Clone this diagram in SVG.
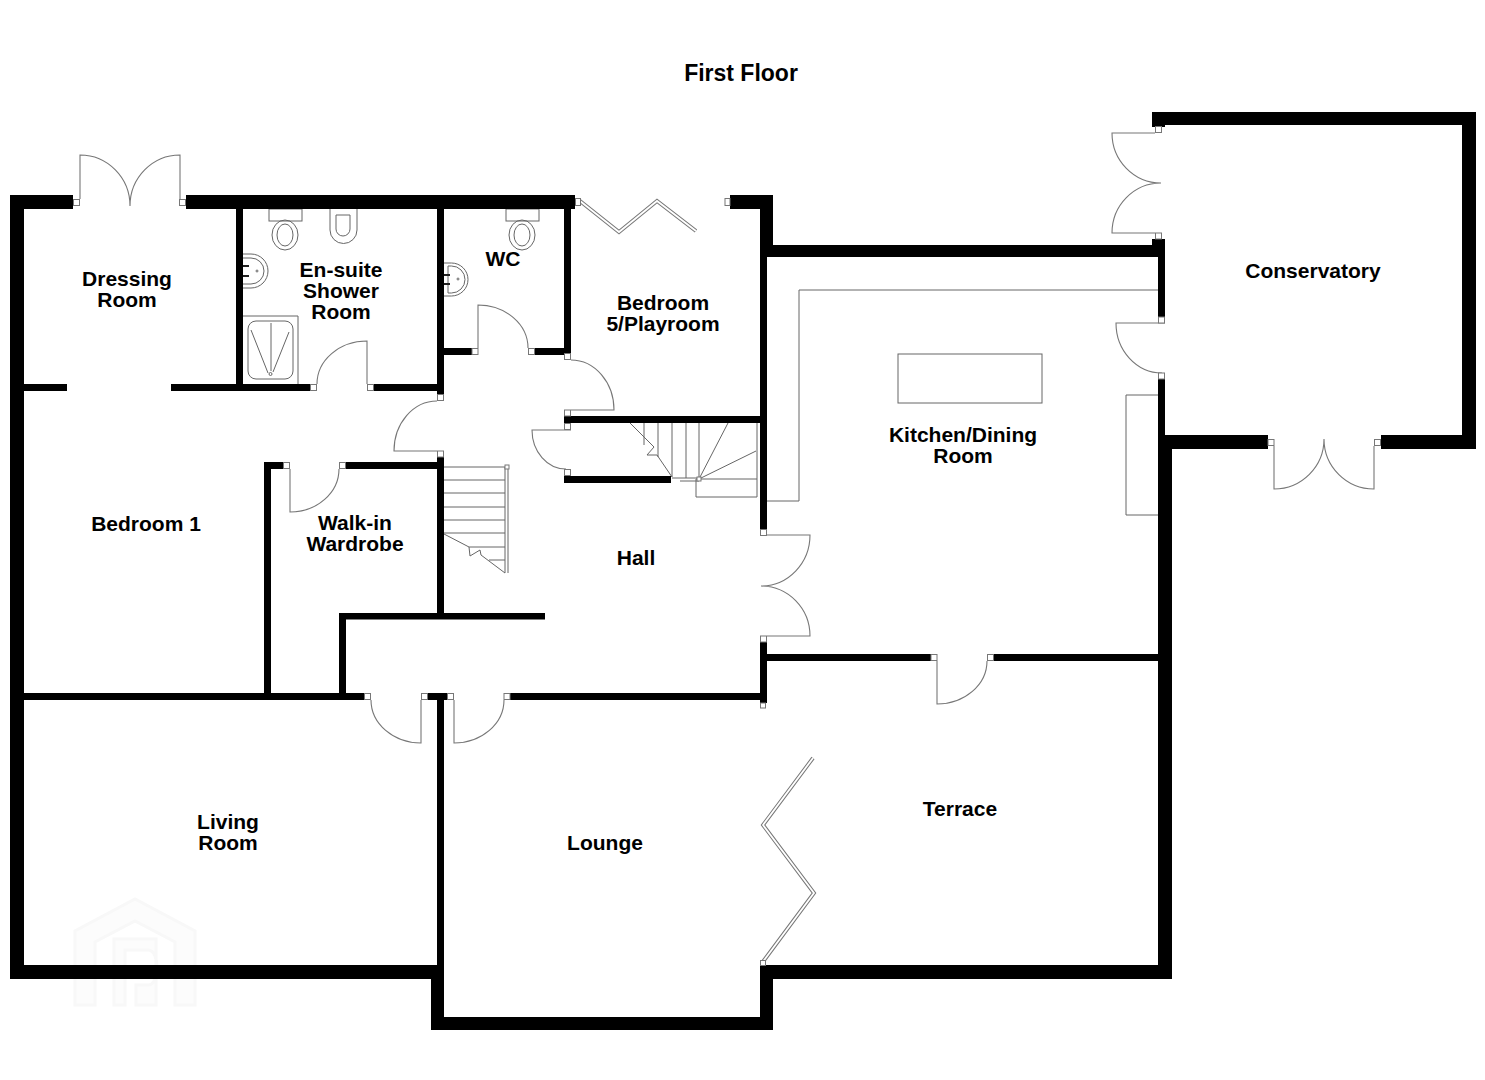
<svg xmlns="http://www.w3.org/2000/svg" width="1485" height="1080" viewBox="0 0 1485 1080">
<style>
.w{fill:#000}
.j{fill:#fff;stroke:#777;stroke-width:1}
.l{fill:none;stroke:#777;stroke-width:1.100}
.f{fill:none;stroke:#666;stroke-width:1}
.b{fill:none;stroke:#777;stroke-width:3.800}
.bi{fill:none;stroke:#fff;stroke-width:1.800}
.wm{fill:#fcfcfc;stroke:#f8f8f8;stroke-width:3}
text{font-family:"Liberation Sans",Arial,sans-serif;font-weight:700;font-size:21px;fill:#000;text-anchor:middle}
.t{font-size:23px}
</style>
<rect width="1485" height="1080" fill="#fff"/>
<g id="watermark">
<path class="wm" d="M75,1005V931L135,899L195,931V1005H175V942L135,921L95,942V1005Z"/>
<path class="wm" d="M114,1005V939H156V1005H136V985H148C160,985 160,950 148,950H125V1005Z"/>
</g>
<g id="fixtures">
<g id="ensuite-wc"><rect class="f" x="269" y="209" width="33" height="12"/><ellipse class="f" cx="285" cy="235" rx="13" ry="15"/><ellipse class="f" cx="285" cy="235" rx="8" ry="11"/></g>
<g id="bidet"><path class="f" d="M330,209V230A13.500,13.500 0 0 0 357,230V209"/><path class="f" d="M336,215H350V229A7,7 0 0 1 336,229Z"/></g>
<g id="ensuite-basin"><path class="f" d="M243,254H251A17,17 0 0 1 251,288H243"/><path class="f" d="M243,258H251A13,13 0 0 1 251,284H243"/><circle class="f" cx="257" cy="271" r="1"/><path stroke="#222" stroke-width="2" d="M243,266H249M243,276H249"/></g>
<g id="shower"><path class="f" d="M243,316H298V384"/><rect class="f" x="248" y="321" width="45" height="58" rx="8"/><path class="f" d="M251,330L268,373M271,323V371M289,332L273,372"/><circle class="f" cx="270.500" cy="374" r="1.500"/></g>
<g id="wc-wc"><rect class="f" x="506" y="209" width="33" height="12"/><ellipse class="f" cx="522" cy="235" rx="13" ry="15"/><ellipse class="f" cx="522" cy="235" rx="8" ry="11"/></g>
<g id="wc-basin"><path class="f" d="M444,263H451.500A16.500,16.500 0 0 1 451.500,296H444"/><path class="f" d="M448,266H451.500A13.500,13.500 0 0 1 451.500,293H448Z"/><circle class="f" cx="458" cy="279" r="1"/><path stroke="#222" stroke-width="2" d="M444,275H450M444,284H450"/></g>
<g id="kitchen-units"><path class="f" d="M1158,290H799V501H767"/><rect class="f" x="898" y="354" width="144" height="49"/><path class="f" d="M1158,395H1126V515H1158"/></g>
</g>
<g id="stairs">
<path class="f" d="M444,467H505M444,480H505M444,493H505M444,507H505M444,520H505M444,533H505M469,547H505M489,560H505"/>
<path class="f" d="M444,534L469,547L470,556L480,550L481,555L505,573"/>
<path class="f" d="M505,467V573M508,467V573"/>
<rect class="j" x="505" y="465" width="4" height="4"/>
<path class="f" d="M630,423L654,447L647,455L657,455L672,477M644,423V445M658,423V457M672,423V477M686,423V478M699,423V479M699,479L728,423M699,479L756,451M672,478H699M680,481H699M696,479H757M696,479V497H757M757,423V497"/>
<rect class="j" x="697" y="477" width="4" height="4"/>
</g>
<g id="doors">
<path class="l" d="M80,199V155A50,51 0 0 1 130,206M180,199V155A50,51 0 0 0 130,206"/>
<path class="l" d="M317,384A50,43 0 0 1 367,341V384"/>
<path class="l" d="M478,348V305A50,43 0 0 1 528,348"/>
<path class="l" d="M571,360A43,50 0 0 1 614,410H571"/>
<path class="l" d="M571,430H532A34,39 0 0 0 566,469"/>
<path class="l" d="M437,401A43,50 0 0 0 394,451H437"/>
<path class="l" d="M290,469V512A49,43 0 0 0 339,469"/>
<path class="l" d="M371,700A50,43 0 0 0 421,743V700"/>
<path class="l" d="M454,700V743A50,43 0 0 0 504,700"/>
<path class="l" d="M767,535H810A49,51 0 0 1 761,586A49,50 0 0 1 810,636H767"/>
<path class="l" d="M937,661V704A50,43 0 0 0 987,661"/>
<path class="l" d="M1155,133H1112A49,50 0 0 0 1161,183A49,50 0 0 0 1112,233H1155"/>
<path class="l" d="M1165,323H1116A46,50 0 0 0 1162,373"/>
<path class="l" d="M1274,446V489A50,50 0 0 0 1324,439A50,50 0 0 0 1374,489V446"/>
<path class="b" d="M580,201L619,232L657,201L696,231"/><path class="bi" d="M580,201L619,232L657,201L696,231"/>
<path class="b" d="M762,963L814,893L763,825L813,758"/><path class="bi" d="M762,963L814,893L763,825L813,758"/>
</g>
<g id="walls">
<rect class="w" x="10" y="195" width="14" height="784"/>
<rect class="w" x="10" y="195" width="63" height="14"/>
<rect class="w" x="186" y="195" width="389" height="14"/>
<rect class="w" x="730" y="195" width="43" height="14"/>
<rect class="w" x="760" y="195" width="13" height="62"/>
<rect class="w" x="760" y="245" width="405" height="12"/>
<rect class="w" x="760" y="257" width="7" height="272"/>
<rect class="w" x="1158" y="239" width="7" height="78"/>
<rect class="w" x="1152" y="239" width="13" height="6"/>
<rect class="w" x="1152" y="112" width="324" height="13"/>
<rect class="w" x="1152" y="112" width="13" height="15"/>
<rect class="w" x="1462" y="112" width="14" height="337"/>
<rect class="w" x="1381" y="435" width="95" height="14"/>
<rect class="w" x="1158" y="435" width="110" height="14"/>
<rect class="w" x="1158" y="379" width="7" height="60"/>
<rect class="w" x="1158" y="449" width="14" height="530"/>
<rect class="w" x="760" y="965" width="412" height="14"/>
<rect class="w" x="760" y="965" width="13" height="65"/>
<rect class="w" x="431" y="1017" width="342" height="13"/>
<rect class="w" x="431" y="965" width="13" height="65"/>
<rect class="w" x="10" y="965" width="434" height="14"/>
<rect class="w" x="236" y="209" width="7" height="181"/>
<rect class="w" x="437" y="209" width="7" height="185"/>
<rect class="w" x="24" y="384" width="43" height="7"/>
<rect class="w" x="171" y="384" width="139" height="7"/>
<rect class="w" x="374" y="384" width="70" height="7"/>
<rect class="w" x="564" y="209" width="7" height="145"/>
<rect class="w" x="444" y="348" width="28" height="7"/>
<rect class="w" x="535" y="348" width="29" height="7"/>
<rect class="w" x="564" y="416" width="203" height="7"/>
<rect class="w" x="564" y="476" width="107" height="7"/>
<rect class="w" x="264" y="462" width="7" height="231"/>
<rect class="w" x="264" y="462" width="19" height="7"/>
<rect class="w" x="346" y="462" width="98" height="7"/>
<rect class="w" x="437" y="457" width="7" height="160"/>
<rect class="w" x="339" y="613" width="206" height="6.500"/>
<rect class="w" x="339" y="613" width="7" height="80"/>
<rect class="w" x="24" y="693" width="340" height="7"/>
<rect class="w" x="428" y="693" width="19" height="7"/>
<rect class="w" x="510" y="693" width="257" height="7"/>
<rect class="w" x="437" y="700" width="7" height="265"/>
<rect class="w" x="760" y="642" width="7" height="61"/>
<rect class="w" x="767" y="654" width="164" height="7"/>
<rect class="w" x="994" y="654" width="164" height="7"/>
</g>
<g id="jambs">
<rect class="j" x="73.500" y="199.500" width="6" height="6"/>
<rect class="j" x="179.500" y="199.500" width="6" height="6"/>
<rect class="j" x="575.500" y="198.500" width="5" height="7"/>
<rect class="j" x="725" y="198.500" width="5" height="7"/>
<rect class="j" x="310.500" y="384.500" width="6" height="6"/>
<rect class="j" x="367.500" y="384.500" width="6" height="6"/>
<rect class="j" x="472" y="348.500" width="6" height="6"/>
<rect class="j" x="528.500" y="348.500" width="6" height="6"/>
<rect class="j" x="564.500" y="353.500" width="6" height="6"/>
<rect class="j" x="564.500" y="410" width="6" height="6"/>
<rect class="j" x="564.500" y="423.500" width="6" height="6"/>
<rect class="j" x="564.500" y="469.500" width="6" height="6"/>
<rect class="j" x="437.500" y="394.500" width="6" height="6"/>
<rect class="j" x="437.500" y="451" width="6" height="6"/>
<rect class="j" x="283.500" y="462.500" width="6" height="6"/>
<rect class="j" x="339.500" y="462.500" width="6" height="6"/>
<rect class="j" x="364.500" y="693.500" width="6" height="6"/>
<rect class="j" x="421.500" y="693.500" width="6" height="6"/>
<rect class="j" x="447.500" y="693.500" width="6" height="6"/>
<rect class="j" x="504" y="693.500" width="6" height="6"/>
<rect class="j" x="760.500" y="529.500" width="6" height="6"/>
<rect class="j" x="760.500" y="636" width="6" height="6"/>
<rect class="j" x="760.500" y="703" width="5" height="5"/>
<rect class="j" x="931" y="654.500" width="6" height="6"/>
<rect class="j" x="987.500" y="654.500" width="6" height="6"/>
<rect class="j" x="760.500" y="960.500" width="5" height="5"/>
<rect class="j" x="1155.500" y="126.500" width="6" height="6"/>
<rect class="j" x="1155.500" y="233" width="6" height="6"/>
<rect class="j" x="1158.500" y="317" width="6" height="6"/>
<rect class="j" x="1158.500" y="373" width="6" height="6"/>
<rect class="j" x="1268" y="439.500" width="6" height="6"/>
<rect class="j" x="1374.500" y="439.500" width="6" height="6"/>
</g>
<g id="labels">
<text class="t" x="741" y="81">First Floor</text>
<text x="127" y="286">Dressing</text><text x="127" y="307">Room</text>
<text x="341" y="277">En-suite</text><text x="341" y="298">Shower</text><text x="341" y="319">Room</text>
<text x="503" y="266">WC</text>
<text x="663" y="310">Bedroom</text><text x="663" y="331">5/Playroom</text>
<text x="1313" y="278">Conservatory</text>
<text x="963" y="442">Kitchen/Dining</text><text x="963" y="463">Room</text>
<text x="146" y="531">Bedroom 1</text>
<text x="355" y="530">Walk-in</text><text x="355" y="551">Wardrobe</text>
<text x="636" y="565">Hall</text>
<text x="228" y="829">Living</text><text x="228" y="850">Room</text>
<text x="605" y="850">Lounge</text>
<text x="960" y="816">Terrace</text>
</g>
</svg>
